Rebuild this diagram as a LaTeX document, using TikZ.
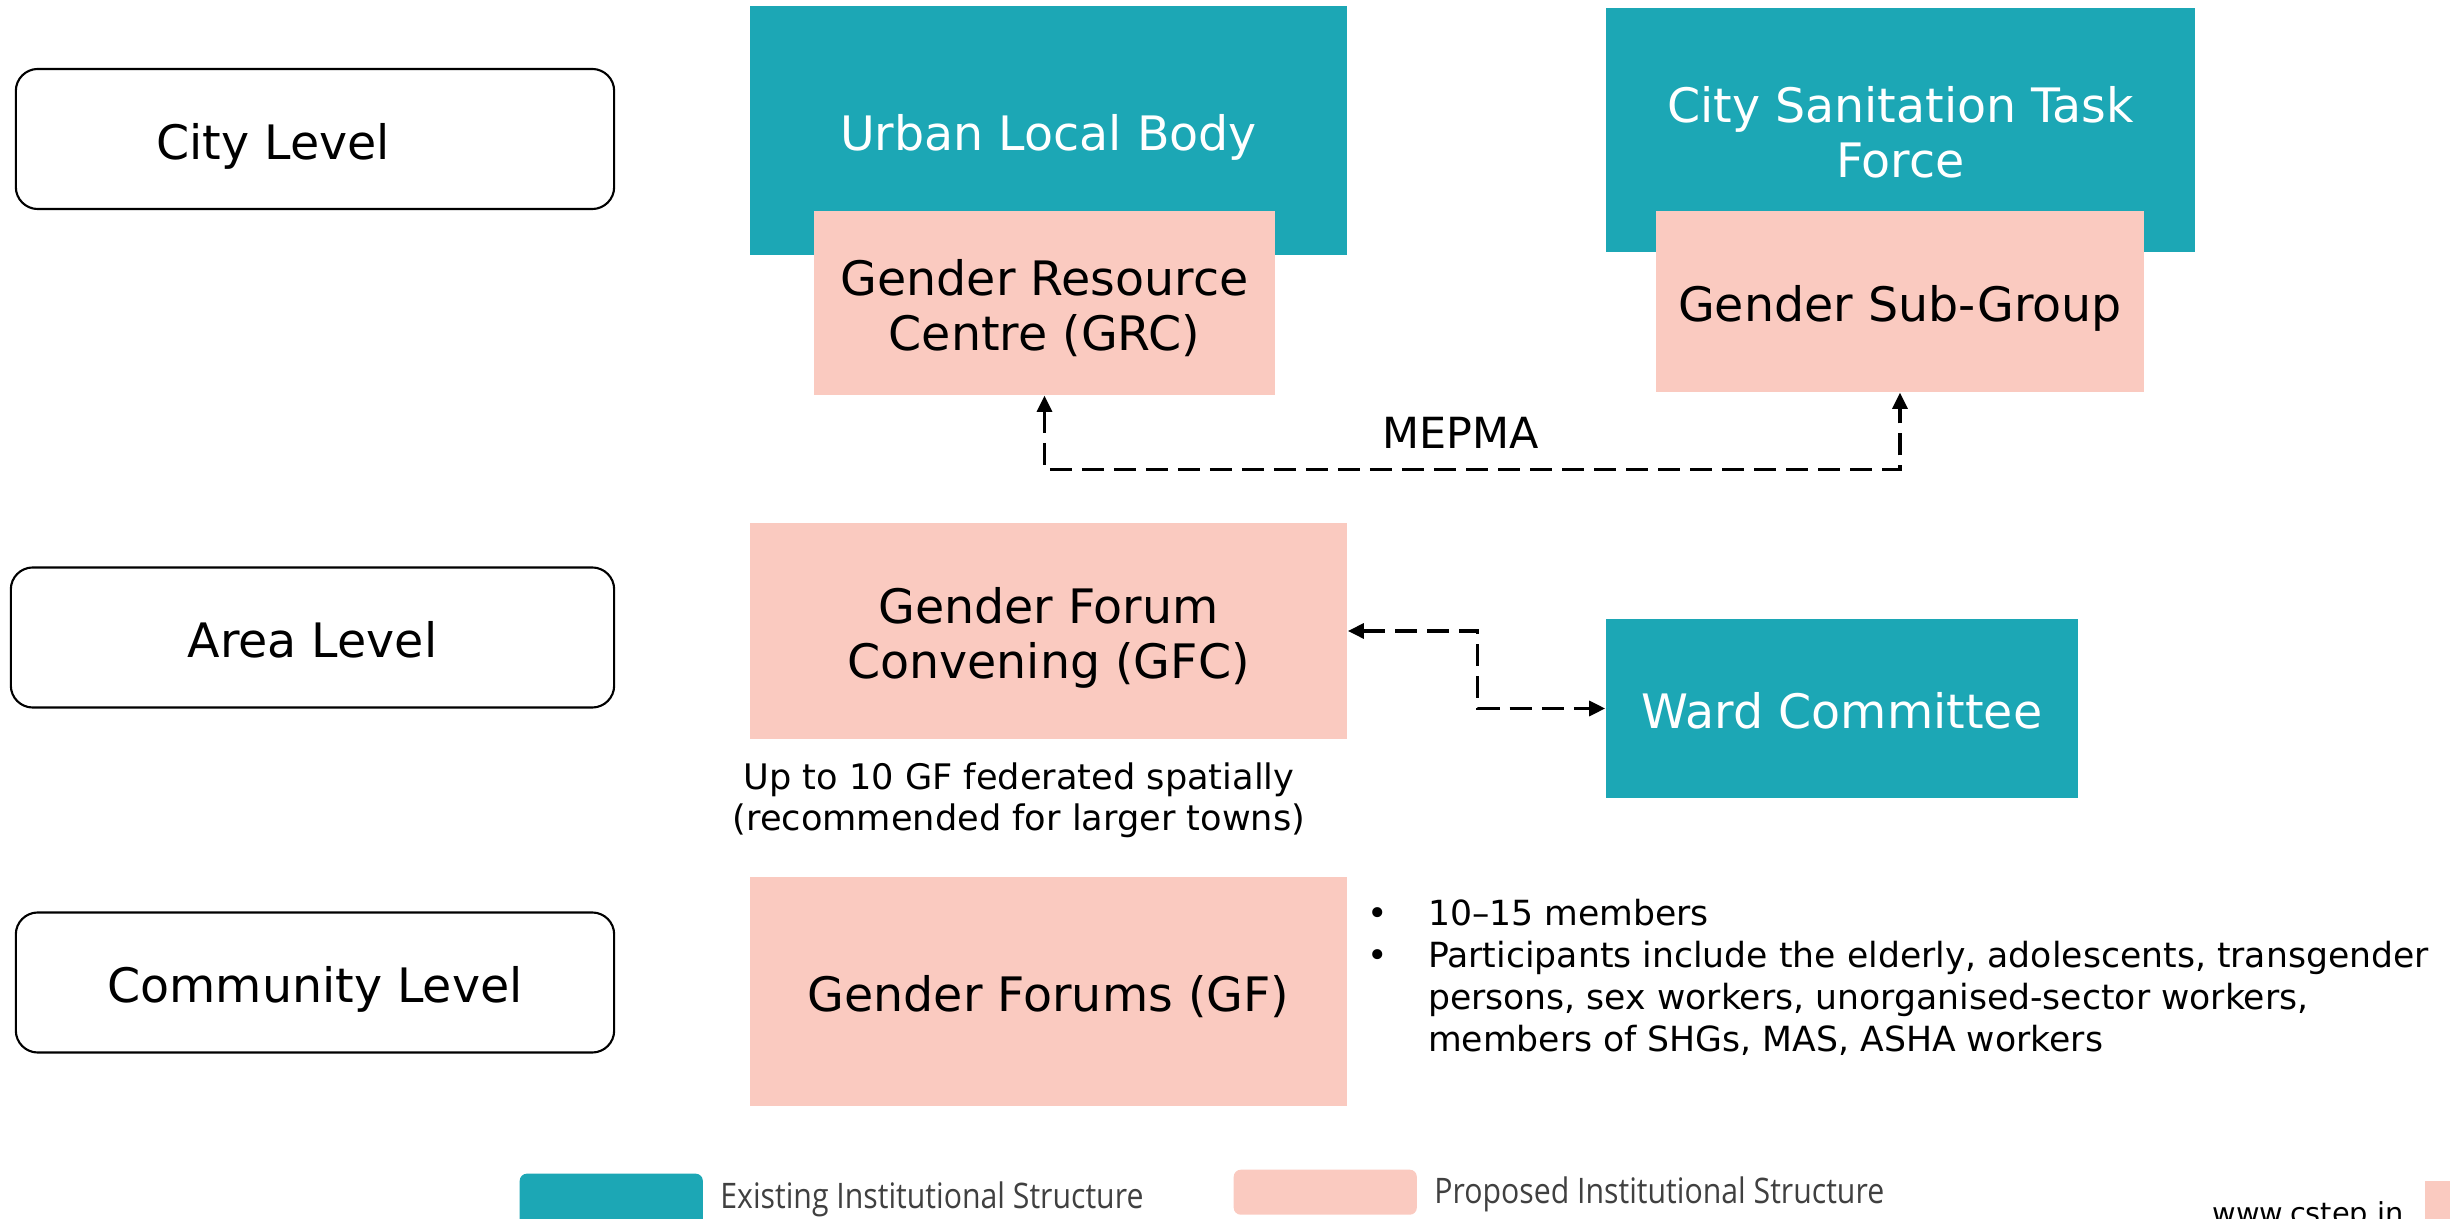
\documentclass[tikz,border=0pt]{standalone}
\usepackage{fontspec}
\setmainfont{DejaVu Sans}
\newfontfamily\keyfont[FakeStretch=0.86]{Open Sans}
\usetikzlibrary{positioning,arrows.meta}
\definecolor{existing}{RGB}{28,167,181}
\definecolor{proposed}{RGB}{250,202,192}
\definecolor{keygrey}{RGB}{64,64,64}
\newcommand\tallstrut{\rule{0pt}{15.4pt}}
\newcommand\deepstrut{\rule[-4pt]{0pt}{4pt}}

\begin{document}
\begin{tikzpicture}[x=0.01cm, y=-0.01cm,
		>={Triangle[length=0.16cm, width=0.15cm]},
		boxtext/.style={align=center, font=\fontsize{13.5}{15.5}\selectfont, execute at begin node=\tallstrut, execute at end node=\deepstrut},
		tier/.style={draw, line width=0.6pt, rounded corners=0.22cm, minimum width=5.98cm, minimum height=1.4cm, boxtext},
		oldfill/.style={fill=existing, inner sep=0pt},
		newfill/.style={fill=proposed, inner sep=0pt},
		oldbox/.style={oldfill, text=white, boxtext},
		newbox/.style={newfill, boxtext},
		link/.style={<->, dash pattern=on 0.22cm off 0.1cm, line width=0.9pt},
		note/.style={font=\fontsize{10}{11.6}\selectfont},
		keytext/.style={anchor=west, text=keygrey, font=\keyfont\fontsize{10}{12}\selectfont}]
			\useasboundingbox (0,0) rectangle (2450,1219);

			\node[tier] (city) at (315,139) {\hspace*{-0.84cm}City Level};
			\node[tier, minimum width=6.03cm] (area) at (312.5,637.5) {Area Level};
			\node[tier] (community) at (315,982.5) {Community Level};

			\node[oldbox, minimum width=5.97cm, minimum height=2.49cm] (ulb) at (1048.5,130.5) {Urban Local Body};
			\node[newbox, minimum width=4.61cm, minimum height=1.84cm] (grc) at (1044.5,303) {\tallstrut Gender Resource\\Centre (GRC)};
			\node[oldbox, minimum width=5.89cm, minimum height=2.44cm] (cstf) at (1900.5,130) {\tallstrut City Sanitation Task\\Force};
			\node[newbox, minimum width=4.88cm, minimum height=1.81cm] (gsg) at (1900,301.5) {Gender Sub-Group};
			\node[font=\fontsize{12.2}{14}\selectfont] (mepma) at (1461,433) {MEPMA};

			\node[newbox, minimum width=5.97cm, minimum height=2.16cm] (gfc) at (1048.5,631) {\tallstrut Gender Forum\\Convening (GFC)};
			\node[oldbox, minimum width=4.72cm, minimum height=1.79cm] (ward) at (1842,708.5) {Ward Committee};
			\node[note, align=center] (fed) at (1019,800) {Up to 10 GF federated spatially\\(recommended for larger towns)};

			\node[newbox, minimum width=5.97cm, minimum height=2.29cm] (gf) at (1048.5,991.5) {Gender Forums (GF)};
			\node[anchor=west, inner sep=0pt, font=\fontsize{9.85}{12}\selectfont] (members) at (1367,980) {\begin{tabular}{@{}l@{\hspace{0.4cm}}l@{}}
				\textbullet & 10--15 members\\
				\textbullet & Participants include the elderly, adolescents, transgender\\
				& persons, sex workers, unorganised-sector workers,\\
				& members of SHGs, MAS, ASHA workers
			\end{tabular}};

			\node[oldfill, minimum width=1.83cm, minimum height=0.6cm, rounded corners=2pt, anchor=north west] (keyold) at (519,1173) {};
			\node[keytext] (keyoldtext) at (708,1199) {Existing Institutional Structure};
			\node[newfill, minimum width=1.83cm, minimum height=0.45cm, rounded corners=2pt, anchor=north west] (keynew) at (1233,1169) {};
			\node[keytext] (keynewtext) at (1422,1194) {Proposed Institutional Structure};

			\node[anchor=base west, inner sep=0pt, font=\fontsize{8.2}{10}\selectfont] (web) at (2212,1224) {www.cstep.in};
			\node[newfill, minimum width=0.4cm, minimum height=0.5cm, anchor=north west] (corner) at (2424,1180) {};

			\draw[link] (grc.south) -- ++(0,74) -| (gsg.south);
			\draw[link] (gfc.east) -- ++(130,0) |- (ward.west);

		  \end{tikzpicture}
\end{document}
